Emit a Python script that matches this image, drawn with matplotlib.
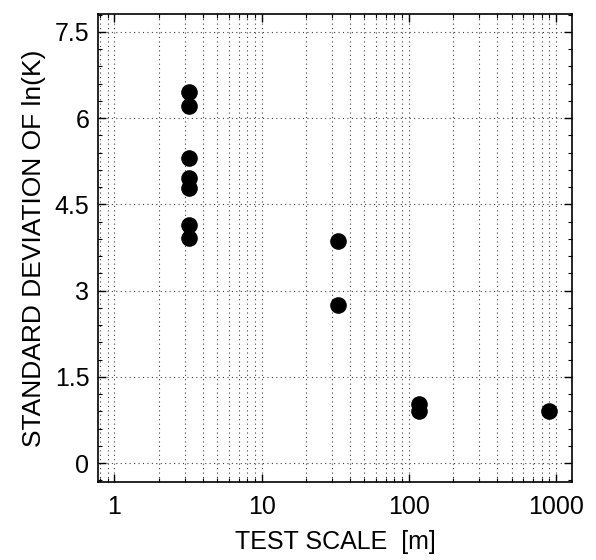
import matplotlib
matplotlib.use('Agg')
import matplotlib.pyplot as plt
from matplotlib.ticker import MultipleLocator, LogLocator, FixedLocator, FixedFormatter

# test scale [m] and standard deviation of ln(K)
scale_m = [3.2, 3.2, 3.2, 3.2, 3.2, 3.2, 3.2, 33, 33, 118, 118, 900]
std_lnk = [6.45, 6.21, 5.30, 4.96, 4.78, 4.14, 3.91, 3.86, 2.75, 1.03, 0.90, 0.90]

y_ticks = [0, 1.5, 3, 4.5, 6, 7.5]
y_tick_labels = ['0', '1.5', '3', '4.5', '6', '7.5']
x_ticks = [1, 10, 100, 1000]
x_tick_labels = ['1', '10', '100', '1000']

plt.rcParams['font.family'] = ['Liberation Sans', 'DejaVu Sans']

fig = plt.figure(figsize=(5.96, 5.6), dpi=100)
ax = fig.add_axes([0.164, 0.139, 0.796, 0.836])

ax.scatter(scale_m, std_lnk, s=120, color='black', zorder=3)

ax.set_xscale('log')
ax.set_xlim(0.77, 1290)
ax.set_ylim(-0.33, 7.81)

ax.xaxis.set_major_locator(FixedLocator(x_ticks))
ax.xaxis.set_major_formatter(FixedFormatter(x_tick_labels))
ax.xaxis.set_minor_locator(LogLocator(base=10, subs=range(2, 10), numticks=20))
ax.yaxis.set_major_locator(FixedLocator(y_ticks))
ax.yaxis.set_major_formatter(FixedFormatter(y_tick_labels))
ax.yaxis.set_minor_locator(MultipleLocator(0.3))

dots = (0, (1, 3))
ax.grid(True, which='major', axis='both', color='0.25', linestyle=dots, linewidth=0.8)
ax.grid(True, which='minor', axis='x', color='0.25', linestyle=dots, linewidth=0.8)

ax.tick_params(which='both', direction='in', top=True, right=True, labelsize=18)
ax.tick_params(which='major', length=6, width=1)
ax.tick_params(which='minor', length=3, width=0.8)
ax.tick_params(axis='x', pad=9)
ax.tick_params(axis='y', pad=6)

ax.set_xlabel('TEST SCALE  [m]', fontsize=18, labelpad=8)
ax.set_ylabel('STANDARD DEVIATION OF ln(K)', fontsize=19, labelpad=6)

for s in ax.spines.values():
    s.set_linewidth(1.2)

fig.savefig('out.png', dpi=100)
